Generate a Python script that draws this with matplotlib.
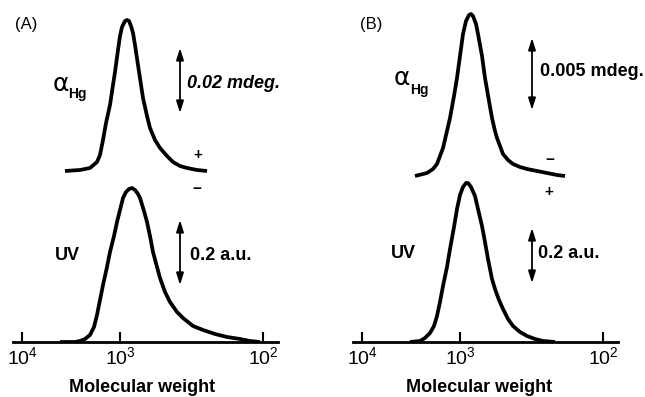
import matplotlib
matplotlib.use("Agg")
import matplotlib.pyplot as plt

plt.rcParams['font.family'] = ['Liberation Sans', 'DejaVu Sans']
plt.rcParams['mathtext.fontset'] = 'custom'
plt.rcParams['mathtext.rm'] = 'Liberation Sans'
plt.rcParams['mathtext.it'] = 'Liberation Sans:italic'
plt.rcParams['mathtext.bf'] = 'Liberation Sans:bold'

# ---- data (x: elution position, arbitrary units; y: detector signal, arbitrary units)
tick_pos = [0, 98, 241]
tick_labels = [r'$\mathregular{10^4}$', r'$\mathregular{10^3}$', r'$\mathregular{10^2}$']

# Panel A, optical rotation (alpha_Hg)
a_hg_x = [43, 58, 68, 75, 78, 81, 84, 88, 91, 93, 96, 98, 100, 103, 105, 107, 109, 111, 113,
          116, 121, 125, 128, 133, 138, 145, 151, 158, 165, 175, 185]
a_hg_y = [0, 1, 3, 9, 16, 31, 48, 66, 86, 99, 121, 135, 144, 150, 151, 150, 145, 138, 126,
          106, 73, 55, 43, 31, 23, 15, 9, 5, 3, 1, 0]
a_hg_offset = 171

# Panel A, UV
a_uv_x = [38, 53, 58, 63, 68, 72, 75, 78, 81, 85, 88, 92, 95, 98, 101, 104, 107, 110, 113,
          116, 118, 122, 125, 128, 131, 135, 138, 143, 148, 155, 161, 171, 181, 193, 205,
          218, 228, 238]
a_uv_y = [0, 0, 1, 3, 7, 15, 27, 42, 57, 75, 90, 106, 120, 132, 144, 150, 153, 154, 152,
          148, 144, 131, 120, 106, 90, 75, 64, 50, 40, 30, 24, 16, 12, 8, 5, 3, 1, 0]

# Panel B, optical rotation (alpha_Hg)
b_hg_x = [53, 65, 71, 75, 78, 81, 85, 88, 92, 95, 98, 101, 104, 107, 109, 111, 114, 116,
          120, 123, 127, 130, 133, 135, 138, 141, 146, 151, 158, 165, 175, 185, 195, 203]
b_hg_y = [0, 3, 7, 12, 20, 28, 45, 58, 80, 98, 120, 142, 155, 161, 162, 160, 152, 142,
          120, 98, 75, 58, 45, 38, 30, 22, 16, 12, 9, 7, 5, 3, 1, 0]
b_hg_offset = 166

# Panel B, UV
b_uv_x = [48, 58, 63, 68, 72, 75, 78, 81, 85, 88, 92, 95, 98, 101, 104, 106, 109, 113, 116,
          120, 123, 126, 130, 133, 137, 141, 146, 151, 158, 165, 173, 181, 193]
b_uv_y = [0, 1, 4, 9, 16, 26, 40, 56, 75, 93, 115, 133, 147, 155, 159, 159, 155, 146, 133,
          116, 100, 83, 63, 53, 42, 33, 23, 16, 10, 6, 3, 1, 0]

W, H = 645, 397
fig = plt.figure(figsize=(W / 100, H / 100), dpi=100)

def make_axes(left_px):
    ax = fig.add_axes([left_px / W, (H - 342) / H, 265 / W, 342 / H])
    ax.set_xlim(-9, 256)
    ax.set_ylim(0, 342)
    for s in ['top', 'left', 'right']:
        ax.spines[s].set_visible(False)
    ax.spines['bottom'].set_linewidth(2.0)
    ax.set_yticks([])
    ax.set_xticks(tick_pos)
    ax.set_xticklabels(tick_labels)
    ax.tick_params(axis='x', direction='in', length=7, width=1.5, pad=3, labelsize=14)
    ax.patch.set_alpha(0)
    return ax

lw = 2.7
line_kw = dict(color='black', lw=lw, solid_capstyle='butt', solid_joinstyle='round')
arrow = dict(arrowstyle='<|-|>,head_length=0.7,head_width=0.22', lw=1.3, color='black',
             shrinkA=0, shrinkB=0)
alpha_kw = dict(ha='center', va='center', fontsize=18, family='DejaVu Sans')

# ---- Panel A
axA = make_axes(13)
axA.plot(a_hg_x, [v + a_hg_offset for v in a_hg_y], **line_kw)
axA.plot(a_uv_x, a_uv_y, **line_kw)
axA.text(4, 317, '(A)', ha='center', va='center', fontsize=12)
axA.text(39, 258, 'α', **alpha_kw)
axA.text(46, 248, 'Hg', ha='left', va='center', fontsize=10, fontweight='bold')
axA.annotate('', xy=(158, 294), xytext=(158, 229), arrowprops=arrow)
axA.text(165, 259, '0.02 mdeg.', ha='left', va='center', fontsize=13,
         fontweight='bold', fontstyle='italic')
axA.text(176, 187, '+', ha='center', va='center', fontsize=11, fontweight='bold')
axA.text(175, 153, '−', ha='center', va='center', fontsize=11, fontweight='bold')
axA.text(45, 86, 'UV', ha='center', va='center', fontsize=13, fontweight='bold')
axA.annotate('', xy=(158, 122), xytext=(158, 57), arrowprops=arrow)
axA.text(168, 87, '0.2 a.u.', ha='left', va='center', fontsize=13, fontweight='bold')
axA.text(120, -45, 'Molecular weight', ha='center', va='center', fontsize=13, fontweight='bold')

# ---- Panel B
axB = make_axes(353)
axB.plot(b_hg_x, [v + b_hg_offset for v in b_hg_y], **line_kw)
axB.plot(b_uv_x, b_uv_y, **line_kw)
axB.text(9, 317, '(B)', ha='center', va='center', fontsize=12)
axB.text(40, 264, 'α', **alpha_kw)
axB.text(48, 252, 'Hg', ha='left', va='center', fontsize=10, fontweight='bold')
axB.annotate('', xy=(170, 304), xytext=(170, 232), arrowprops=arrow)
axB.text(178, 270, '0.005 mdeg.', ha='left', va='center', fontsize=13, fontweight='bold')
axB.text(188, 182, '−', ha='center', va='center', fontsize=11, fontweight='bold')
axB.text(187, 150, '+', ha='center', va='center', fontsize=11, fontweight='bold')
axB.text(41, 88, 'UV', ha='center', va='center', fontsize=13, fontweight='bold')
axB.annotate('', xy=(170, 114), xytext=(170, 59), arrowprops=arrow)
axB.text(176, 89, '0.2 a.u.', ha='left', va='center', fontsize=13, fontweight='bold')
axB.text(117, -45, 'Molecular weight', ha='center', va='center', fontsize=13, fontweight='bold')

fig.savefig('out.png', dpi=100)
